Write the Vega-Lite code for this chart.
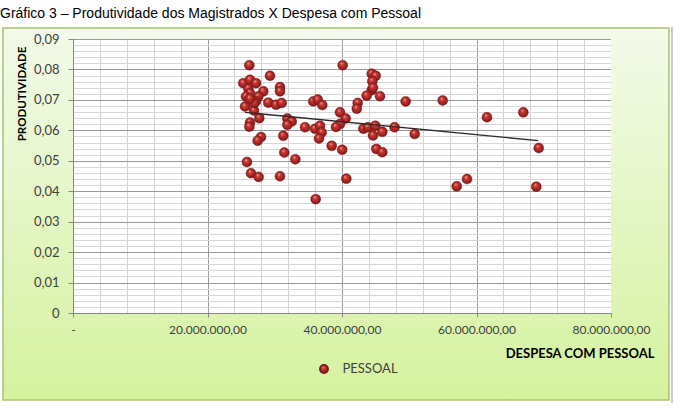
{
  "$schema": "https://vega.github.io/schema/vega-lite/v6.json",
  "autosize": {"type": "none"},
  "padding": {"left": 73, "top": 39, "right": 66, "bottom": 93},
  "width": 538,
  "height": 274,
  "background": "white",
  "title": {
    "text": "Gráfico 3 – Produtividade dos Magistrados X Despesa com Pessoal",
    "anchor": "start",
    "frame": "group",
    "font": "Liberation Sans",
    "fontSize": 14,
    "fontWeight": "normal",
    "color": "#000000",
    "dx": -73,
    "offset": 5
  },
  "config": {
    "view": {"fill": "white", "stroke": null},
    "locale": {"number": {"decimal": ",", "thousands": ".", "grouping": [3], "currency": ["R$ ", ""]}}
  },
  "resolve": {"axis": {"x": "independent", "y": "independent"}},
  "layer": [
    {
      "data": {"values": [{}]},
      "mark": {"type": "rect", "fill": {"gradient": "linear", "x1": 0, "y1": 0, "x2": 0, "y2": 1, "stops": [{"offset": 0, "color": "#f3faea"}, {"offset": 1, "color": "#d5f29e"}]}},
      "encoding": {
        "x": {"datum": -10410000, "type": "quantitative", "scale": {"domain": [0, 80000000], "nice": false}, "axis": null},
        "x2": {"datum": 0},
        "y": {"datum": -0.02858, "type": "quantitative", "scale": {"domain": [0, 0.09], "nice": false}, "axis": null},
        "y2": {"datum": 0.09361}
      }
    },
    {
      "data": {"values": [{}]},
      "mark": {"type": "rect", "fill": {"gradient": "linear", "x1": 0, "y1": 0, "x2": 0, "y2": 1, "stops": [{"offset": 0, "color": "#f3faea"}, {"offset": 1, "color": "#d5f29e"}]}},
      "encoding": {
        "x": {"datum": 80000000, "type": "quantitative", "scale": {"domain": [0, 80000000], "nice": false}, "axis": null},
        "x2": {"datum": 88620000},
        "y": {"datum": -0.02858, "type": "quantitative", "scale": {"domain": [0, 0.09], "nice": false}, "axis": null},
        "y2": {"datum": 0.09361}
      }
    },
    {
      "data": {"values": [{}]},
      "mark": {"type": "rect", "fill": {"gradient": "linear", "x1": 0, "y1": 0, "x2": 0, "y2": 1, "stops": [{"offset": 0, "color": "#f3faea"}, {"offset": 1, "color": "#f2fae8"}]}},
      "encoding": {
        "x": {"datum": 0, "type": "quantitative", "scale": {"domain": [0, 80000000], "nice": false}, "axis": null},
        "x2": {"datum": 80000000},
        "y": {"datum": 0.09, "type": "quantitative", "scale": {"domain": [0, 0.09], "nice": false}, "axis": null},
        "y2": {"datum": 0.09361}
      }
    },
    {
      "data": {"values": [{}]},
      "mark": {"type": "rect", "fill": {"gradient": "linear", "x1": 0, "y1": 0, "x2": 0, "y2": 1, "stops": [{"offset": 0, "color": "#dcf4b0"}, {"offset": 1, "color": "#d5f29e"}]}},
      "encoding": {
        "x": {"datum": 0, "type": "quantitative", "scale": {"domain": [0, 80000000], "nice": false}, "axis": null},
        "x2": {"datum": 80000000},
        "y": {"datum": -0.02858, "type": "quantitative", "scale": {"domain": [0, 0.09], "nice": false}, "axis": null},
        "y2": {"datum": 0}
      }
    },
    {
      "data": {"values": [{}]},
      "mark": {"type": "rect", "filled": false, "stroke": "#a6c46e", "strokeWidth": 1.5},
      "encoding": {
        "x": {"datum": -10410000, "type": "quantitative", "scale": {"domain": [0, 80000000], "nice": false}, "axis": null},
        "x2": {"datum": 88620000},
        "y": {"datum": -0.02858, "type": "quantitative", "scale": {"domain": [0, 0.09], "nice": false}, "axis": null},
        "y2": {"datum": 0.09361}
      }
    },
    {
      "data": {"values": [{}]},
      "mark": {"type": "rule", "color": "#a8a8a8", "strokeWidth": 1.2},
      "encoding": {
        "x": {"datum": 89070000, "type": "quantitative", "scale": {"domain": [0, 80000000], "nice": false}, "axis": null},
        "y": {"datum": -0.02956, "type": "quantitative", "scale": {"domain": [0, 0.09], "nice": false}, "axis": null},
        "y2": {"datum": 0.09394}
      }
    },
    {
      "data": {"values": [
        {"despesa": 26220000, "produtividade": 0.0814},
        {"despesa": 40100000, "produtividade": 0.0814},
        {"despesa": 29290000, "produtividade": 0.0779},
        {"despesa": 25320000, "produtividade": 0.0755},
        {"despesa": 26320000, "produtividade": 0.0766},
        {"despesa": 27210000, "produtividade": 0.0755},
        {"despesa": 30780000, "produtividade": 0.0742},
        {"despesa": 30780000, "produtividade": 0.0728},
        {"despesa": 28300000, "produtividade": 0.0728},
        {"despesa": 26070000, "produtividade": 0.0737},
        {"despesa": 26320000, "produtividade": 0.0722},
        {"despesa": 25720000, "produtividade": 0.0711},
        {"despesa": 27550000, "produtividade": 0.0711},
        {"despesa": 27210000, "produtividade": 0.0695},
        {"despesa": 29040000, "produtividade": 0.0691},
        {"despesa": 30190000, "produtividade": 0.0684},
        {"despesa": 31030000, "produtividade": 0.0690},
        {"despesa": 25580000, "produtividade": 0.0678},
        {"despesa": 26910000, "produtividade": 0.0665},
        {"despesa": 27700000, "produtividade": 0.0640},
        {"despesa": 26320000, "produtividade": 0.0626},
        {"despesa": 26220000, "produtividade": 0.0612},
        {"despesa": 31870000, "produtividade": 0.0639},
        {"despesa": 32520000, "produtividade": 0.0629},
        {"despesa": 31870000, "produtividade": 0.0618},
        {"despesa": 34500000, "produtividade": 0.0610},
        {"despesa": 35990000, "produtividade": 0.0605},
        {"despesa": 36730000, "produtividade": 0.0615},
        {"despesa": 36980000, "produtividade": 0.0593},
        {"despesa": 36580000, "produtividade": 0.0573},
        {"despesa": 35730000, "produtividade": 0.0695},
        {"despesa": 36390000, "produtividade": 0.0701},
        {"despesa": 37070000, "produtividade": 0.0683},
        {"despesa": 39700000, "produtividade": 0.0659},
        {"despesa": 40550000, "produtividade": 0.0639},
        {"despesa": 39700000, "produtividade": 0.0621},
        {"despesa": 39110000, "produtividade": 0.0611},
        {"despesa": 42330000, "produtividade": 0.0690},
        {"despesa": 42200000, "produtividade": 0.0671},
        {"despesa": 44420000, "produtividade": 0.0786},
        {"despesa": 45010000, "produtividade": 0.0779},
        {"despesa": 44510000, "produtividade": 0.0761},
        {"despesa": 44420000, "produtividade": 0.0732},
        {"despesa": 43670000, "produtividade": 0.0714},
        {"despesa": 45650000, "produtividade": 0.0712},
        {"despesa": 44610000, "produtividade": 0.0740},
        {"despesa": 49470000, "produtividade": 0.0695},
        {"despesa": 54970000, "produtividade": 0.0698},
        {"despesa": 61560000, "produtividade": 0.0643},
        {"despesa": 66960000, "produtividade": 0.0659},
        {"despesa": 69250000, "produtividade": 0.0542},
        {"despesa": 58590000, "produtividade": 0.0440},
        {"despesa": 57060000, "produtividade": 0.0416},
        {"despesa": 68890000, "produtividade": 0.0415},
        {"despesa": 50810000, "produtividade": 0.0588},
        {"despesa": 43170000, "produtividade": 0.0605},
        {"despesa": 43840000, "produtividade": 0.0610},
        {"despesa": 44950000, "produtividade": 0.0615},
        {"despesa": 47820000, "produtividade": 0.0610},
        {"despesa": 45990000, "produtividade": 0.0595},
        {"despesa": 44610000, "produtividade": 0.0583},
        {"despesa": 31270000, "produtividade": 0.0582},
        {"despesa": 27960000, "produtividade": 0.0578},
        {"despesa": 27460000, "produtividade": 0.0566},
        {"despesa": 38470000, "produtividade": 0.0549},
        {"despesa": 40030000, "produtividade": 0.0536},
        {"despesa": 31420000, "produtividade": 0.0527},
        {"despesa": 33060000, "produtividade": 0.0505},
        {"despesa": 45100000, "produtividade": 0.0539},
        {"despesa": 45990000, "produtividade": 0.0528},
        {"despesa": 25870000, "produtividade": 0.0496},
        {"despesa": 26470000, "produtividade": 0.0459},
        {"despesa": 27610000, "produtividade": 0.0447},
        {"despesa": 30780000, "produtividade": 0.0449},
        {"despesa": 40640000, "produtividade": 0.0441},
        {"despesa": 36090000, "produtividade": 0.0374},
        {"despesa": 26960000, "produtividade": 0.0690},
        {"despesa": 26320000, "produtividade": 0.0704}
      ]},
      "mark": {
        "type": "point", "filled": true, "size": 100, "opacity": 1,
        "fill": {"gradient": "radial", "x1": 0.38, "y1": 0.3, "r1": 0, "x2": 0.5, "y2": 0.5, "r2": 0.55,
          "stops": [{"offset": 0, "color": "#f2b4ac"}, {"offset": 0.3, "color": "#c83a32"}, {"offset": 0.75, "color": "#9c1f1f"}, {"offset": 1, "color": "#6a1010"}]},
        "stroke": "#701818", "strokeWidth": 0.4
      },
      "encoding": {
        "x": {
          "field": "despesa", "type": "quantitative",
          "scale": {"domain": [0, 80000000], "nice": false},
          "axis": {
            "orient": "bottom",
            "values": [0, 20000000, 40000000, 60000000, 80000000],
            "grid": false,
            "labelExpr": "datum.value == 0 ? '-' : format(datum.value, ',.2f')",
            "labelFont": "Lato", "labelFontSize": 12, "labelColor": "#404040",
            "labelPadding": 7, "labelFlush": false, "labelOverlap": false,
            "tickSize": 4, "tickColor": "#868686", "domainColor": "#868686",
            "title": "DESPESA COM PESSOAL",
            "titleFont": "Lato", "titleFontSize": 13, "titleFontWeight": "bold", "titleColor": "#000000",
            "titleX": 581, "titleY": 40, "titleAlign": "right", "titleBaseline": "middle",
            "zindex": 1
          }
        },
        "y": {
          "field": "produtividade", "type": "quantitative",
          "scale": {"domain": [0, 0.09], "nice": false},
          "axis": {
            "orient": "left",
            "values": [0, 0.01, 0.02, 0.03, 0.04, 0.05, 0.06, 0.07, 0.08, 0.09],
            "grid": false,
            "labelExpr": "datum.value == 0 ? '0' : format(datum.value, '.2f')",
            "labelFont": "Lato", "labelFontSize": 13, "labelColor": "#404040",
            "labelPadding": 9, "labelFlush": false, "labelOverlap": false,
            "tickSize": 5, "tickColor": "#868686", "domainColor": "#868686",
            "title": "PRODUTIVIDADE",
            "titleFont": "Lato", "titleFontSize": 11.5, "titleFontWeight": "bold", "titleColor": "#000000",
            "titleAngle": 270, "titleX": -51, "titleY": 54.5, "titleAlign": "center", "titleBaseline": "middle",
            "zindex": 1
          }
        },
        "shape": {
          "datum": "PESSOAL",
          "scale": {"range": ["circle"]},
          "legend": {
            "orient": "none", "legendX": 244.5, "legendY": 323.5,
            "title": null, "padding": 0,
            "labelFont": "Lato", "labelFontSize": 13, "labelColor": "#404040",
            "labelOffset": 12, "symbolSize": 70
          }
        }
      }
    },
    {
      "data": {"values": [
        {"despesa": 25580000, "produtividade": 0.0659},
        {"despesa": 69190000, "produtividade": 0.0566}
      ]},
      "mark": {"type": "line", "color": "#2a2a2a", "strokeWidth": 1.3},
      "encoding": {
        "x": {
          "field": "despesa", "type": "quantitative",
          "scale": {"domain": [0, 80000000], "nice": false},
          "axis": {
            "orient": "bottom",
            "values": [0, 4000000, 8000000, 12000000, 16000000, 20000000, 24000000, 28000000, 32000000, 36000000, 40000000, 44000000, 48000000, 52000000, 56000000, 60000000, 64000000, 68000000, 72000000, 76000000, 80000000],
            "grid": true,
            "gridColor": {"condition": {"test": "abs(datum.value / 20000000 - round(datum.value / 20000000)) < 0.000001", "value": "#9a9a9a"}, "value": "#d2d2d2"},
            "gridWidth": 1,
            "labels": false, "ticks": false, "domain": false, "title": null, "zindex": 0
          }
        },
        "y": {
          "field": "produtividade", "type": "quantitative",
          "scale": {"domain": [0, 0.09], "nice": false},
          "axis": {
            "orient": "left",
            "values": [0, 0.002, 0.004, 0.006, 0.008, 0.01, 0.012, 0.014, 0.016, 0.018, 0.02, 0.022, 0.024, 0.026, 0.028, 0.03, 0.032, 0.034, 0.036, 0.038, 0.04, 0.042, 0.044, 0.046, 0.048, 0.05, 0.052, 0.054, 0.056, 0.058, 0.06, 0.062, 0.064, 0.066, 0.068, 0.07, 0.072, 0.074, 0.076, 0.078, 0.08, 0.082, 0.084, 0.086, 0.088, 0.09],
            "grid": true,
            "gridColor": {"condition": {"test": "abs(datum.value * 100 - round(datum.value * 100)) < 0.000001", "value": "#9a9a9a"}, "value": "#d8d8d8"},
            "gridWidth": 1,
            "labels": false, "ticks": false, "domain": false, "title": null, "zindex": 0
          }
        }
      }
    }
  ]
}
